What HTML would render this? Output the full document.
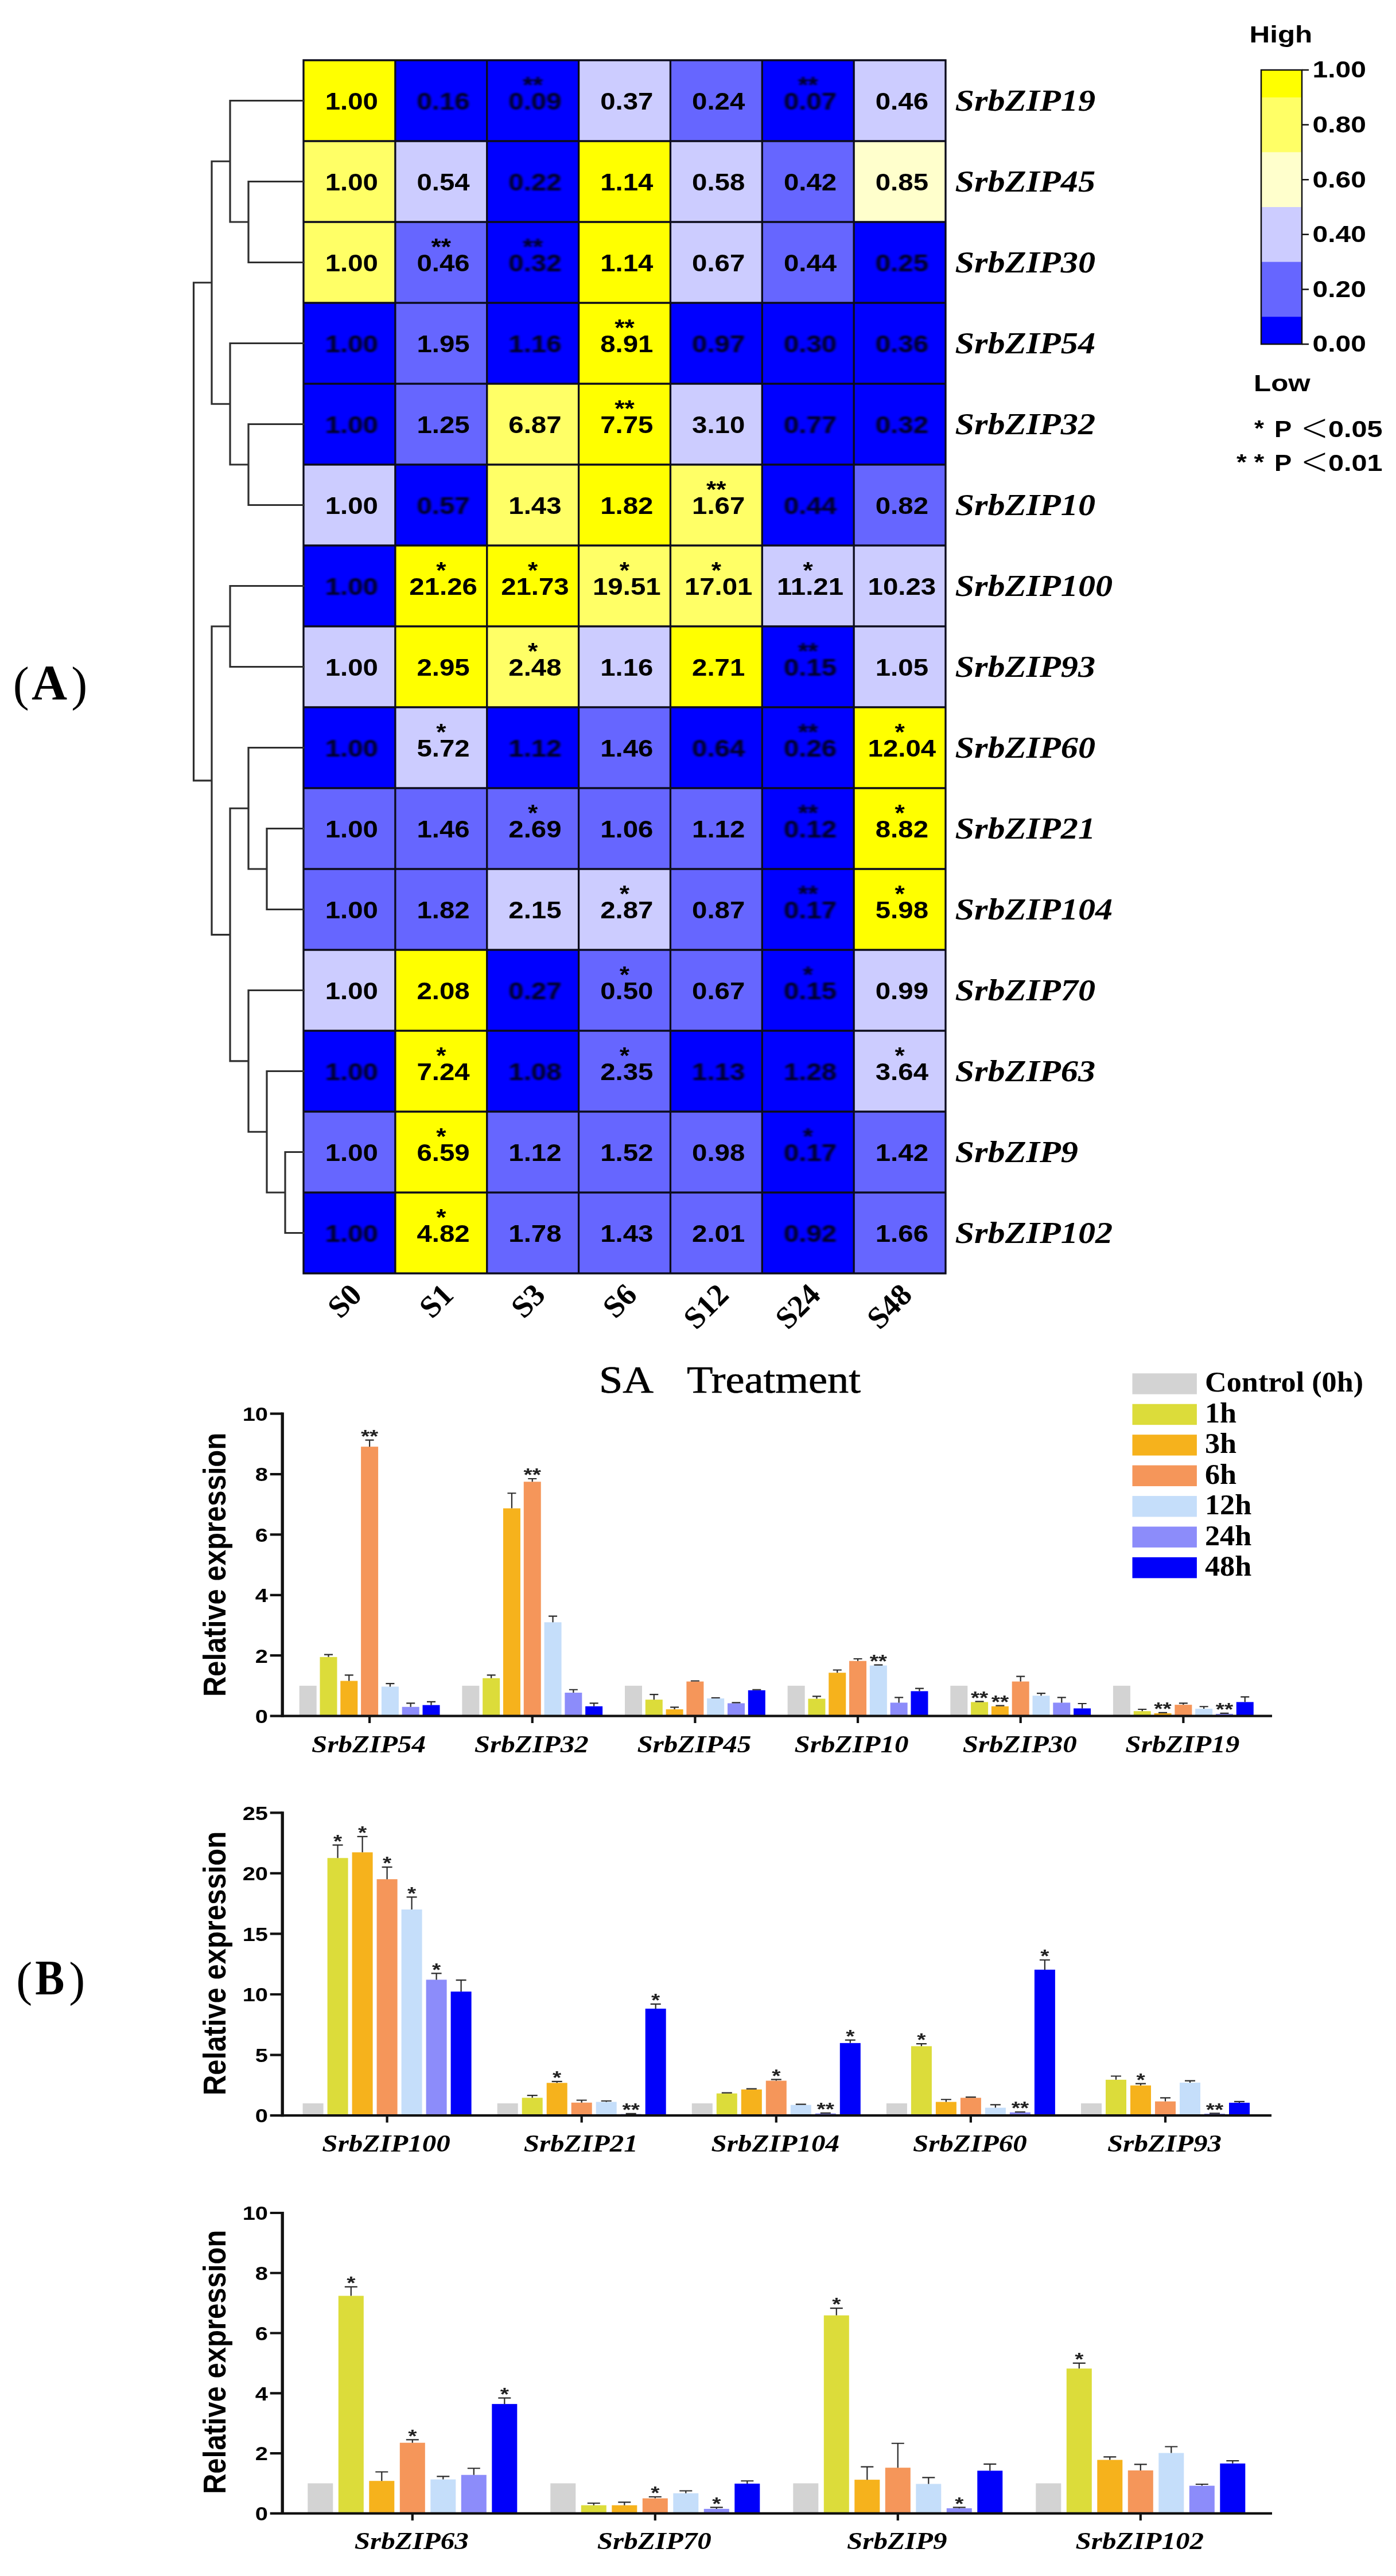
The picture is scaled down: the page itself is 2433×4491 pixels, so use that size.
<!DOCTYPE html>
<html lang="en"><head><meta charset="utf-8"><title>SrbZIP expression under SA treatment</title>
<style>
html,body{margin:0;padding:0;background:#fff}
svg{display:block;filter:blur(0.7px)}
.fs{font-family:"Liberation Sans", Arial, sans-serif;font-weight:bold}
.fr{font-family:"Liberation Serif", "Times New Roman", serif;font-weight:bold}
</style></head><body>
<svg width="2433" height="4491" viewBox="0 0 2433 4491">
<defs><filter id="bl" x="-20%" y="-50%" width="140%" height="200%"><feGaussianBlur stdDeviation="1.7"/></filter></defs>
<rect width="2433" height="4491" fill="#fff"/>
<g id="heat">
<rect x="529.00" y="105.00" width="160.36" height="141.50" fill="#ffff00"/>
<rect x="688.86" y="105.00" width="160.36" height="141.50" fill="#0000ff"/>
<rect x="848.71" y="105.00" width="160.36" height="141.50" fill="#0000ff"/>
<rect x="1008.57" y="105.00" width="160.36" height="141.50" fill="#ccccff"/>
<rect x="1168.43" y="105.00" width="160.36" height="141.50" fill="#6666ff"/>
<rect x="1328.29" y="105.00" width="160.36" height="141.50" fill="#0000ff"/>
<rect x="1488.14" y="105.00" width="160.36" height="141.50" fill="#ccccff"/>
<rect x="529.00" y="246.00" width="160.36" height="141.50" fill="#ffff66"/>
<rect x="688.86" y="246.00" width="160.36" height="141.50" fill="#ccccff"/>
<rect x="848.71" y="246.00" width="160.36" height="141.50" fill="#0000ff"/>
<rect x="1008.57" y="246.00" width="160.36" height="141.50" fill="#ffff00"/>
<rect x="1168.43" y="246.00" width="160.36" height="141.50" fill="#ccccff"/>
<rect x="1328.29" y="246.00" width="160.36" height="141.50" fill="#6666ff"/>
<rect x="1488.14" y="246.00" width="160.36" height="141.50" fill="#ffffcc"/>
<rect x="529.00" y="387.00" width="160.36" height="141.50" fill="#ffff66"/>
<rect x="688.86" y="387.00" width="160.36" height="141.50" fill="#6666ff"/>
<rect x="848.71" y="387.00" width="160.36" height="141.50" fill="#0000ff"/>
<rect x="1008.57" y="387.00" width="160.36" height="141.50" fill="#ffff00"/>
<rect x="1168.43" y="387.00" width="160.36" height="141.50" fill="#ccccff"/>
<rect x="1328.29" y="387.00" width="160.36" height="141.50" fill="#6666ff"/>
<rect x="1488.14" y="387.00" width="160.36" height="141.50" fill="#0000ff"/>
<rect x="529.00" y="528.00" width="160.36" height="141.50" fill="#0000ff"/>
<rect x="688.86" y="528.00" width="160.36" height="141.50" fill="#6666ff"/>
<rect x="848.71" y="528.00" width="160.36" height="141.50" fill="#0000ff"/>
<rect x="1008.57" y="528.00" width="160.36" height="141.50" fill="#ffff00"/>
<rect x="1168.43" y="528.00" width="160.36" height="141.50" fill="#0000ff"/>
<rect x="1328.29" y="528.00" width="160.36" height="141.50" fill="#0000ff"/>
<rect x="1488.14" y="528.00" width="160.36" height="141.50" fill="#0000ff"/>
<rect x="529.00" y="669.00" width="160.36" height="141.50" fill="#0000ff"/>
<rect x="688.86" y="669.00" width="160.36" height="141.50" fill="#6666ff"/>
<rect x="848.71" y="669.00" width="160.36" height="141.50" fill="#ffff66"/>
<rect x="1008.57" y="669.00" width="160.36" height="141.50" fill="#ffff00"/>
<rect x="1168.43" y="669.00" width="160.36" height="141.50" fill="#ccccff"/>
<rect x="1328.29" y="669.00" width="160.36" height="141.50" fill="#0000ff"/>
<rect x="1488.14" y="669.00" width="160.36" height="141.50" fill="#0000ff"/>
<rect x="529.00" y="810.00" width="160.36" height="141.50" fill="#ccccff"/>
<rect x="688.86" y="810.00" width="160.36" height="141.50" fill="#0000ff"/>
<rect x="848.71" y="810.00" width="160.36" height="141.50" fill="#ffff66"/>
<rect x="1008.57" y="810.00" width="160.36" height="141.50" fill="#ffff00"/>
<rect x="1168.43" y="810.00" width="160.36" height="141.50" fill="#ffff66"/>
<rect x="1328.29" y="810.00" width="160.36" height="141.50" fill="#0000ff"/>
<rect x="1488.14" y="810.00" width="160.36" height="141.50" fill="#6666ff"/>
<rect x="529.00" y="951.00" width="160.36" height="141.50" fill="#0000ff"/>
<rect x="688.86" y="951.00" width="160.36" height="141.50" fill="#ffff00"/>
<rect x="848.71" y="951.00" width="160.36" height="141.50" fill="#ffff00"/>
<rect x="1008.57" y="951.00" width="160.36" height="141.50" fill="#ffff66"/>
<rect x="1168.43" y="951.00" width="160.36" height="141.50" fill="#ffff66"/>
<rect x="1328.29" y="951.00" width="160.36" height="141.50" fill="#ccccff"/>
<rect x="1488.14" y="951.00" width="160.36" height="141.50" fill="#ccccff"/>
<rect x="529.00" y="1092.00" width="160.36" height="141.50" fill="#ccccff"/>
<rect x="688.86" y="1092.00" width="160.36" height="141.50" fill="#ffff00"/>
<rect x="848.71" y="1092.00" width="160.36" height="141.50" fill="#ffff66"/>
<rect x="1008.57" y="1092.00" width="160.36" height="141.50" fill="#ccccff"/>
<rect x="1168.43" y="1092.00" width="160.36" height="141.50" fill="#ffff00"/>
<rect x="1328.29" y="1092.00" width="160.36" height="141.50" fill="#0000ff"/>
<rect x="1488.14" y="1092.00" width="160.36" height="141.50" fill="#ccccff"/>
<rect x="529.00" y="1233.00" width="160.36" height="141.50" fill="#0000ff"/>
<rect x="688.86" y="1233.00" width="160.36" height="141.50" fill="#ccccff"/>
<rect x="848.71" y="1233.00" width="160.36" height="141.50" fill="#0000ff"/>
<rect x="1008.57" y="1233.00" width="160.36" height="141.50" fill="#6666ff"/>
<rect x="1168.43" y="1233.00" width="160.36" height="141.50" fill="#0000ff"/>
<rect x="1328.29" y="1233.00" width="160.36" height="141.50" fill="#0000ff"/>
<rect x="1488.14" y="1233.00" width="160.36" height="141.50" fill="#ffff00"/>
<rect x="529.00" y="1374.00" width="160.36" height="141.50" fill="#6666ff"/>
<rect x="688.86" y="1374.00" width="160.36" height="141.50" fill="#6666ff"/>
<rect x="848.71" y="1374.00" width="160.36" height="141.50" fill="#6666ff"/>
<rect x="1008.57" y="1374.00" width="160.36" height="141.50" fill="#6666ff"/>
<rect x="1168.43" y="1374.00" width="160.36" height="141.50" fill="#6666ff"/>
<rect x="1328.29" y="1374.00" width="160.36" height="141.50" fill="#0000ff"/>
<rect x="1488.14" y="1374.00" width="160.36" height="141.50" fill="#ffff00"/>
<rect x="529.00" y="1515.00" width="160.36" height="141.50" fill="#6666ff"/>
<rect x="688.86" y="1515.00" width="160.36" height="141.50" fill="#6666ff"/>
<rect x="848.71" y="1515.00" width="160.36" height="141.50" fill="#ccccff"/>
<rect x="1008.57" y="1515.00" width="160.36" height="141.50" fill="#ccccff"/>
<rect x="1168.43" y="1515.00" width="160.36" height="141.50" fill="#6666ff"/>
<rect x="1328.29" y="1515.00" width="160.36" height="141.50" fill="#0000ff"/>
<rect x="1488.14" y="1515.00" width="160.36" height="141.50" fill="#ffff00"/>
<rect x="529.00" y="1656.00" width="160.36" height="141.50" fill="#ccccff"/>
<rect x="688.86" y="1656.00" width="160.36" height="141.50" fill="#ffff00"/>
<rect x="848.71" y="1656.00" width="160.36" height="141.50" fill="#0000ff"/>
<rect x="1008.57" y="1656.00" width="160.36" height="141.50" fill="#6666ff"/>
<rect x="1168.43" y="1656.00" width="160.36" height="141.50" fill="#6666ff"/>
<rect x="1328.29" y="1656.00" width="160.36" height="141.50" fill="#0000ff"/>
<rect x="1488.14" y="1656.00" width="160.36" height="141.50" fill="#ccccff"/>
<rect x="529.00" y="1797.00" width="160.36" height="141.50" fill="#0000ff"/>
<rect x="688.86" y="1797.00" width="160.36" height="141.50" fill="#ffff00"/>
<rect x="848.71" y="1797.00" width="160.36" height="141.50" fill="#0000ff"/>
<rect x="1008.57" y="1797.00" width="160.36" height="141.50" fill="#6666ff"/>
<rect x="1168.43" y="1797.00" width="160.36" height="141.50" fill="#0000ff"/>
<rect x="1328.29" y="1797.00" width="160.36" height="141.50" fill="#0000ff"/>
<rect x="1488.14" y="1797.00" width="160.36" height="141.50" fill="#ccccff"/>
<rect x="529.00" y="1938.00" width="160.36" height="141.50" fill="#6666ff"/>
<rect x="688.86" y="1938.00" width="160.36" height="141.50" fill="#ffff00"/>
<rect x="848.71" y="1938.00" width="160.36" height="141.50" fill="#6666ff"/>
<rect x="1008.57" y="1938.00" width="160.36" height="141.50" fill="#6666ff"/>
<rect x="1168.43" y="1938.00" width="160.36" height="141.50" fill="#6666ff"/>
<rect x="1328.29" y="1938.00" width="160.36" height="141.50" fill="#0000ff"/>
<rect x="1488.14" y="1938.00" width="160.36" height="141.50" fill="#6666ff"/>
<rect x="529.00" y="2079.00" width="160.36" height="141.50" fill="#0000ff"/>
<rect x="688.86" y="2079.00" width="160.36" height="141.50" fill="#ffff00"/>
<rect x="848.71" y="2079.00" width="160.36" height="141.50" fill="#6666ff"/>
<rect x="1008.57" y="2079.00" width="160.36" height="141.50" fill="#6666ff"/>
<rect x="1168.43" y="2079.00" width="160.36" height="141.50" fill="#6666ff"/>
<rect x="1328.29" y="2079.00" width="160.36" height="141.50" fill="#0000ff"/>
<rect x="1488.14" y="2079.00" width="160.36" height="141.50" fill="#6666ff"/>
<path d="M529.00 103.50V2221.50M688.86 103.50V2221.50M848.71 103.50V2221.50M1008.57 103.50V2221.50M1168.43 103.50V2221.50M1328.29 103.50V2221.50M1488.14 103.50V2221.50M1648.00 103.50V2221.50M527.50 105.00H1649.50M527.50 246.00H1649.50M527.50 387.00H1649.50M527.50 528.00H1649.50M527.50 669.00H1649.50M527.50 810.00H1649.50M527.50 951.00H1649.50M527.50 1092.00H1649.50M527.50 1233.00H1649.50M527.50 1374.00H1649.50M527.50 1515.00H1649.50M527.50 1656.00H1649.50M527.50 1797.00H1649.50M527.50 1938.00H1649.50M527.50 2079.00H1649.50M527.50 2220.00H1649.50" stroke="#0c0c1c" stroke-width="3.3" fill="none"/>
<text class="fs" transform="translate(612.73,190.70) scale(1.1100,1.0000)" font-size="42.7" text-anchor="middle">1.00</text>
<text class="fs" transform="translate(772.59,190.70) scale(1.1100,1.0000)" font-size="42.7" text-anchor="middle" style="fill:#00001c;" filter="url(#bl)" opacity="0.97">0.16</text>
<text class="fs" transform="translate(932.44,190.70) scale(1.1100,1.0000)" font-size="42.7" text-anchor="middle" style="fill:#00001c;" filter="url(#bl)" opacity="0.97">0.09</text>
<text class="fs" transform="translate(928.64,162.00) scale(1.1100,1.0000)" font-size="40" text-anchor="middle" style="fill:#00001c;" filter="url(#bl)" opacity="0.97">**</text>
<text class="fs" transform="translate(1092.30,190.70) scale(1.1100,1.0000)" font-size="42.7" text-anchor="middle">0.37</text>
<text class="fs" transform="translate(1252.16,190.70) scale(1.1100,1.0000)" font-size="42.7" text-anchor="middle">0.24</text>
<text class="fs" transform="translate(1412.01,190.70) scale(1.1100,1.0000)" font-size="42.7" text-anchor="middle" style="fill:#00001c;" filter="url(#bl)" opacity="0.97">0.07</text>
<text class="fs" transform="translate(1408.21,162.00) scale(1.1100,1.0000)" font-size="40" text-anchor="middle" style="fill:#00001c;" filter="url(#bl)" opacity="0.97">**</text>
<text class="fs" transform="translate(1571.87,190.70) scale(1.1100,1.0000)" font-size="42.7" text-anchor="middle">0.46</text>
<text class="fr" transform="translate(1664.50,193.30) scale(1.1600,1.0000)" font-size="52" style="font-style:italic;">SrbZIP19</text>
<text class="fs" transform="translate(612.73,331.70) scale(1.1100,1.0000)" font-size="42.7" text-anchor="middle">1.00</text>
<text class="fs" transform="translate(772.59,331.70) scale(1.1100,1.0000)" font-size="42.7" text-anchor="middle">0.54</text>
<text class="fs" transform="translate(932.44,331.70) scale(1.1100,1.0000)" font-size="42.7" text-anchor="middle" style="fill:#00001c;" filter="url(#bl)" opacity="0.97">0.22</text>
<text class="fs" transform="translate(1092.30,331.70) scale(1.1100,1.0000)" font-size="42.7" text-anchor="middle">1.14</text>
<text class="fs" transform="translate(1252.16,331.70) scale(1.1100,1.0000)" font-size="42.7" text-anchor="middle">0.58</text>
<text class="fs" transform="translate(1412.01,331.70) scale(1.1100,1.0000)" font-size="42.7" text-anchor="middle">0.42</text>
<text class="fs" transform="translate(1571.87,331.70) scale(1.1100,1.0000)" font-size="42.7" text-anchor="middle">0.85</text>
<text class="fr" transform="translate(1664.50,334.30) scale(1.1600,1.0000)" font-size="52" style="font-style:italic;">SrbZIP45</text>
<text class="fs" transform="translate(612.73,472.70) scale(1.1100,1.0000)" font-size="42.7" text-anchor="middle">1.00</text>
<text class="fs" transform="translate(772.59,472.70) scale(1.1100,1.0000)" font-size="42.7" text-anchor="middle">0.46</text>
<text class="fs" transform="translate(768.79,444.00) scale(1.1100,1.0000)" font-size="40" text-anchor="middle">**</text>
<text class="fs" transform="translate(932.44,472.70) scale(1.1100,1.0000)" font-size="42.7" text-anchor="middle" style="fill:#00001c;" filter="url(#bl)" opacity="0.97">0.32</text>
<text class="fs" transform="translate(928.64,444.00) scale(1.1100,1.0000)" font-size="40" text-anchor="middle" style="fill:#00001c;" filter="url(#bl)" opacity="0.97">**</text>
<text class="fs" transform="translate(1092.30,472.70) scale(1.1100,1.0000)" font-size="42.7" text-anchor="middle">1.14</text>
<text class="fs" transform="translate(1252.16,472.70) scale(1.1100,1.0000)" font-size="42.7" text-anchor="middle">0.67</text>
<text class="fs" transform="translate(1412.01,472.70) scale(1.1100,1.0000)" font-size="42.7" text-anchor="middle">0.44</text>
<text class="fs" transform="translate(1571.87,472.70) scale(1.1100,1.0000)" font-size="42.7" text-anchor="middle" style="fill:#00001c;" filter="url(#bl)" opacity="0.97">0.25</text>
<text class="fr" transform="translate(1664.50,475.30) scale(1.1600,1.0000)" font-size="52" style="font-style:italic;">SrbZIP30</text>
<text class="fs" transform="translate(612.73,613.70) scale(1.1100,1.0000)" font-size="42.7" text-anchor="middle" style="fill:#00001c;" filter="url(#bl)" opacity="0.97">1.00</text>
<text class="fs" transform="translate(772.59,613.70) scale(1.1100,1.0000)" font-size="42.7" text-anchor="middle">1.95</text>
<text class="fs" transform="translate(932.44,613.70) scale(1.1100,1.0000)" font-size="42.7" text-anchor="middle" style="fill:#00001c;" filter="url(#bl)" opacity="0.97">1.16</text>
<text class="fs" transform="translate(1092.30,613.70) scale(1.1100,1.0000)" font-size="42.7" text-anchor="middle">8.91</text>
<text class="fs" transform="translate(1088.50,585.00) scale(1.1100,1.0000)" font-size="40" text-anchor="middle">**</text>
<text class="fs" transform="translate(1252.16,613.70) scale(1.1100,1.0000)" font-size="42.7" text-anchor="middle" style="fill:#00001c;" filter="url(#bl)" opacity="0.97">0.97</text>
<text class="fs" transform="translate(1412.01,613.70) scale(1.1100,1.0000)" font-size="42.7" text-anchor="middle" style="fill:#00001c;" filter="url(#bl)" opacity="0.97">0.30</text>
<text class="fs" transform="translate(1571.87,613.70) scale(1.1100,1.0000)" font-size="42.7" text-anchor="middle" style="fill:#00001c;" filter="url(#bl)" opacity="0.97">0.36</text>
<text class="fr" transform="translate(1664.50,616.30) scale(1.1600,1.0000)" font-size="52" style="font-style:italic;">SrbZIP54</text>
<text class="fs" transform="translate(612.73,754.70) scale(1.1100,1.0000)" font-size="42.7" text-anchor="middle" style="fill:#00001c;" filter="url(#bl)" opacity="0.97">1.00</text>
<text class="fs" transform="translate(772.59,754.70) scale(1.1100,1.0000)" font-size="42.7" text-anchor="middle">1.25</text>
<text class="fs" transform="translate(932.44,754.70) scale(1.1100,1.0000)" font-size="42.7" text-anchor="middle">6.87</text>
<text class="fs" transform="translate(1092.30,754.70) scale(1.1100,1.0000)" font-size="42.7" text-anchor="middle">7.75</text>
<text class="fs" transform="translate(1088.50,726.00) scale(1.1100,1.0000)" font-size="40" text-anchor="middle">**</text>
<text class="fs" transform="translate(1252.16,754.70) scale(1.1100,1.0000)" font-size="42.7" text-anchor="middle">3.10</text>
<text class="fs" transform="translate(1412.01,754.70) scale(1.1100,1.0000)" font-size="42.7" text-anchor="middle" style="fill:#00001c;" filter="url(#bl)" opacity="0.97">0.77</text>
<text class="fs" transform="translate(1571.87,754.70) scale(1.1100,1.0000)" font-size="42.7" text-anchor="middle" style="fill:#00001c;" filter="url(#bl)" opacity="0.97">0.32</text>
<text class="fr" transform="translate(1664.50,757.30) scale(1.1600,1.0000)" font-size="52" style="font-style:italic;">SrbZIP32</text>
<text class="fs" transform="translate(612.73,895.70) scale(1.1100,1.0000)" font-size="42.7" text-anchor="middle">1.00</text>
<text class="fs" transform="translate(772.59,895.70) scale(1.1100,1.0000)" font-size="42.7" text-anchor="middle" style="fill:#00001c;" filter="url(#bl)" opacity="0.97">0.57</text>
<text class="fs" transform="translate(932.44,895.70) scale(1.1100,1.0000)" font-size="42.7" text-anchor="middle">1.43</text>
<text class="fs" transform="translate(1092.30,895.70) scale(1.1100,1.0000)" font-size="42.7" text-anchor="middle">1.82</text>
<text class="fs" transform="translate(1252.16,895.70) scale(1.1100,1.0000)" font-size="42.7" text-anchor="middle">1.67</text>
<text class="fs" transform="translate(1248.36,867.00) scale(1.1100,1.0000)" font-size="40" text-anchor="middle">**</text>
<text class="fs" transform="translate(1412.01,895.70) scale(1.1100,1.0000)" font-size="42.7" text-anchor="middle" style="fill:#00001c;" filter="url(#bl)" opacity="0.97">0.44</text>
<text class="fs" transform="translate(1571.87,895.70) scale(1.1100,1.0000)" font-size="42.7" text-anchor="middle">0.82</text>
<text class="fr" transform="translate(1664.50,898.30) scale(1.1600,1.0000)" font-size="52" style="font-style:italic;">SrbZIP10</text>
<text class="fs" transform="translate(612.73,1036.70) scale(1.1100,1.0000)" font-size="42.7" text-anchor="middle" style="fill:#00001c;" filter="url(#bl)" opacity="0.97">1.00</text>
<text class="fs" transform="translate(772.59,1036.70) scale(1.1100,1.0000)" font-size="42.7" text-anchor="middle">21.26</text>
<text class="fs" transform="translate(768.79,1008.00) scale(1.1100,1.0000)" font-size="40" text-anchor="middle">*</text>
<text class="fs" transform="translate(932.44,1036.70) scale(1.1100,1.0000)" font-size="42.7" text-anchor="middle">21.73</text>
<text class="fs" transform="translate(928.64,1008.00) scale(1.1100,1.0000)" font-size="40" text-anchor="middle">*</text>
<text class="fs" transform="translate(1092.30,1036.70) scale(1.1100,1.0000)" font-size="42.7" text-anchor="middle">19.51</text>
<text class="fs" transform="translate(1088.50,1008.00) scale(1.1100,1.0000)" font-size="40" text-anchor="middle">*</text>
<text class="fs" transform="translate(1252.16,1036.70) scale(1.1100,1.0000)" font-size="42.7" text-anchor="middle">17.01</text>
<text class="fs" transform="translate(1248.36,1008.00) scale(1.1100,1.0000)" font-size="40" text-anchor="middle">*</text>
<text class="fs" transform="translate(1412.01,1036.70) scale(1.1100,1.0000)" font-size="42.7" text-anchor="middle">11.21</text>
<text class="fs" transform="translate(1408.21,1008.00) scale(1.1100,1.0000)" font-size="40" text-anchor="middle">*</text>
<text class="fs" transform="translate(1571.87,1036.70) scale(1.1100,1.0000)" font-size="42.7" text-anchor="middle">10.23</text>
<text class="fr" transform="translate(1664.50,1039.30) scale(1.1600,1.0000)" font-size="52" style="font-style:italic;">SrbZIP100</text>
<text class="fs" transform="translate(612.73,1177.70) scale(1.1100,1.0000)" font-size="42.7" text-anchor="middle">1.00</text>
<text class="fs" transform="translate(772.59,1177.70) scale(1.1100,1.0000)" font-size="42.7" text-anchor="middle">2.95</text>
<text class="fs" transform="translate(932.44,1177.70) scale(1.1100,1.0000)" font-size="42.7" text-anchor="middle">2.48</text>
<text class="fs" transform="translate(928.64,1149.00) scale(1.1100,1.0000)" font-size="40" text-anchor="middle">*</text>
<text class="fs" transform="translate(1092.30,1177.70) scale(1.1100,1.0000)" font-size="42.7" text-anchor="middle">1.16</text>
<text class="fs" transform="translate(1252.16,1177.70) scale(1.1100,1.0000)" font-size="42.7" text-anchor="middle">2.71</text>
<text class="fs" transform="translate(1412.01,1177.70) scale(1.1100,1.0000)" font-size="42.7" text-anchor="middle" style="fill:#00001c;" filter="url(#bl)" opacity="0.97">0.15</text>
<text class="fs" transform="translate(1408.21,1149.00) scale(1.1100,1.0000)" font-size="40" text-anchor="middle" style="fill:#00001c;" filter="url(#bl)" opacity="0.97">**</text>
<text class="fs" transform="translate(1571.87,1177.70) scale(1.1100,1.0000)" font-size="42.7" text-anchor="middle">1.05</text>
<text class="fr" transform="translate(1664.50,1180.30) scale(1.1600,1.0000)" font-size="52" style="font-style:italic;">SrbZIP93</text>
<text class="fs" transform="translate(612.73,1318.70) scale(1.1100,1.0000)" font-size="42.7" text-anchor="middle" style="fill:#00001c;" filter="url(#bl)" opacity="0.97">1.00</text>
<text class="fs" transform="translate(772.59,1318.70) scale(1.1100,1.0000)" font-size="42.7" text-anchor="middle">5.72</text>
<text class="fs" transform="translate(768.79,1290.00) scale(1.1100,1.0000)" font-size="40" text-anchor="middle">*</text>
<text class="fs" transform="translate(932.44,1318.70) scale(1.1100,1.0000)" font-size="42.7" text-anchor="middle" style="fill:#00001c;" filter="url(#bl)" opacity="0.97">1.12</text>
<text class="fs" transform="translate(1092.30,1318.70) scale(1.1100,1.0000)" font-size="42.7" text-anchor="middle">1.46</text>
<text class="fs" transform="translate(1252.16,1318.70) scale(1.1100,1.0000)" font-size="42.7" text-anchor="middle" style="fill:#00001c;" filter="url(#bl)" opacity="0.97">0.64</text>
<text class="fs" transform="translate(1412.01,1318.70) scale(1.1100,1.0000)" font-size="42.7" text-anchor="middle" style="fill:#00001c;" filter="url(#bl)" opacity="0.97">0.26</text>
<text class="fs" transform="translate(1408.21,1290.00) scale(1.1100,1.0000)" font-size="40" text-anchor="middle" style="fill:#00001c;" filter="url(#bl)" opacity="0.97">**</text>
<text class="fs" transform="translate(1571.87,1318.70) scale(1.1100,1.0000)" font-size="42.7" text-anchor="middle">12.04</text>
<text class="fs" transform="translate(1568.07,1290.00) scale(1.1100,1.0000)" font-size="40" text-anchor="middle">*</text>
<text class="fr" transform="translate(1664.50,1321.30) scale(1.1600,1.0000)" font-size="52" style="font-style:italic;">SrbZIP60</text>
<text class="fs" transform="translate(612.73,1459.70) scale(1.1100,1.0000)" font-size="42.7" text-anchor="middle">1.00</text>
<text class="fs" transform="translate(772.59,1459.70) scale(1.1100,1.0000)" font-size="42.7" text-anchor="middle">1.46</text>
<text class="fs" transform="translate(932.44,1459.70) scale(1.1100,1.0000)" font-size="42.7" text-anchor="middle">2.69</text>
<text class="fs" transform="translate(928.64,1431.00) scale(1.1100,1.0000)" font-size="40" text-anchor="middle">*</text>
<text class="fs" transform="translate(1092.30,1459.70) scale(1.1100,1.0000)" font-size="42.7" text-anchor="middle">1.06</text>
<text class="fs" transform="translate(1252.16,1459.70) scale(1.1100,1.0000)" font-size="42.7" text-anchor="middle">1.12</text>
<text class="fs" transform="translate(1412.01,1459.70) scale(1.1100,1.0000)" font-size="42.7" text-anchor="middle" style="fill:#00001c;" filter="url(#bl)" opacity="0.97">0.12</text>
<text class="fs" transform="translate(1408.21,1431.00) scale(1.1100,1.0000)" font-size="40" text-anchor="middle" style="fill:#00001c;" filter="url(#bl)" opacity="0.97">**</text>
<text class="fs" transform="translate(1571.87,1459.70) scale(1.1100,1.0000)" font-size="42.7" text-anchor="middle">8.82</text>
<text class="fs" transform="translate(1568.07,1431.00) scale(1.1100,1.0000)" font-size="40" text-anchor="middle">*</text>
<text class="fr" transform="translate(1664.50,1462.30) scale(1.1600,1.0000)" font-size="52" style="font-style:italic;">SrbZIP21</text>
<text class="fs" transform="translate(612.73,1600.70) scale(1.1100,1.0000)" font-size="42.7" text-anchor="middle">1.00</text>
<text class="fs" transform="translate(772.59,1600.70) scale(1.1100,1.0000)" font-size="42.7" text-anchor="middle">1.82</text>
<text class="fs" transform="translate(932.44,1600.70) scale(1.1100,1.0000)" font-size="42.7" text-anchor="middle">2.15</text>
<text class="fs" transform="translate(1092.30,1600.70) scale(1.1100,1.0000)" font-size="42.7" text-anchor="middle">2.87</text>
<text class="fs" transform="translate(1088.50,1572.00) scale(1.1100,1.0000)" font-size="40" text-anchor="middle">*</text>
<text class="fs" transform="translate(1252.16,1600.70) scale(1.1100,1.0000)" font-size="42.7" text-anchor="middle">0.87</text>
<text class="fs" transform="translate(1412.01,1600.70) scale(1.1100,1.0000)" font-size="42.7" text-anchor="middle" style="fill:#00001c;" filter="url(#bl)" opacity="0.97">0.17</text>
<text class="fs" transform="translate(1408.21,1572.00) scale(1.1100,1.0000)" font-size="40" text-anchor="middle" style="fill:#00001c;" filter="url(#bl)" opacity="0.97">**</text>
<text class="fs" transform="translate(1571.87,1600.70) scale(1.1100,1.0000)" font-size="42.7" text-anchor="middle">5.98</text>
<text class="fs" transform="translate(1568.07,1572.00) scale(1.1100,1.0000)" font-size="40" text-anchor="middle">*</text>
<text class="fr" transform="translate(1664.50,1603.30) scale(1.1600,1.0000)" font-size="52" style="font-style:italic;">SrbZIP104</text>
<text class="fs" transform="translate(612.73,1741.70) scale(1.1100,1.0000)" font-size="42.7" text-anchor="middle">1.00</text>
<text class="fs" transform="translate(772.59,1741.70) scale(1.1100,1.0000)" font-size="42.7" text-anchor="middle">2.08</text>
<text class="fs" transform="translate(932.44,1741.70) scale(1.1100,1.0000)" font-size="42.7" text-anchor="middle" style="fill:#00001c;" filter="url(#bl)" opacity="0.97">0.27</text>
<text class="fs" transform="translate(1092.30,1741.70) scale(1.1100,1.0000)" font-size="42.7" text-anchor="middle">0.50</text>
<text class="fs" transform="translate(1088.50,1713.00) scale(1.1100,1.0000)" font-size="40" text-anchor="middle">*</text>
<text class="fs" transform="translate(1252.16,1741.70) scale(1.1100,1.0000)" font-size="42.7" text-anchor="middle">0.67</text>
<text class="fs" transform="translate(1412.01,1741.70) scale(1.1100,1.0000)" font-size="42.7" text-anchor="middle" style="fill:#00001c;" filter="url(#bl)" opacity="0.97">0.15</text>
<text class="fs" transform="translate(1408.21,1713.00) scale(1.1100,1.0000)" font-size="40" text-anchor="middle" style="fill:#00001c;" filter="url(#bl)" opacity="0.97">*</text>
<text class="fs" transform="translate(1571.87,1741.70) scale(1.1100,1.0000)" font-size="42.7" text-anchor="middle">0.99</text>
<text class="fr" transform="translate(1664.50,1744.30) scale(1.1600,1.0000)" font-size="52" style="font-style:italic;">SrbZIP70</text>
<text class="fs" transform="translate(612.73,1882.70) scale(1.1100,1.0000)" font-size="42.7" text-anchor="middle" style="fill:#00001c;" filter="url(#bl)" opacity="0.97">1.00</text>
<text class="fs" transform="translate(772.59,1882.70) scale(1.1100,1.0000)" font-size="42.7" text-anchor="middle">7.24</text>
<text class="fs" transform="translate(768.79,1854.00) scale(1.1100,1.0000)" font-size="40" text-anchor="middle">*</text>
<text class="fs" transform="translate(932.44,1882.70) scale(1.1100,1.0000)" font-size="42.7" text-anchor="middle" style="fill:#00001c;" filter="url(#bl)" opacity="0.97">1.08</text>
<text class="fs" transform="translate(1092.30,1882.70) scale(1.1100,1.0000)" font-size="42.7" text-anchor="middle">2.35</text>
<text class="fs" transform="translate(1088.50,1854.00) scale(1.1100,1.0000)" font-size="40" text-anchor="middle">*</text>
<text class="fs" transform="translate(1252.16,1882.70) scale(1.1100,1.0000)" font-size="42.7" text-anchor="middle" style="fill:#00001c;" filter="url(#bl)" opacity="0.97">1.13</text>
<text class="fs" transform="translate(1412.01,1882.70) scale(1.1100,1.0000)" font-size="42.7" text-anchor="middle" style="fill:#00001c;" filter="url(#bl)" opacity="0.97">1.28</text>
<text class="fs" transform="translate(1571.87,1882.70) scale(1.1100,1.0000)" font-size="42.7" text-anchor="middle">3.64</text>
<text class="fs" transform="translate(1568.07,1854.00) scale(1.1100,1.0000)" font-size="40" text-anchor="middle">*</text>
<text class="fr" transform="translate(1664.50,1885.30) scale(1.1600,1.0000)" font-size="52" style="font-style:italic;">SrbZIP63</text>
<text class="fs" transform="translate(612.73,2023.70) scale(1.1100,1.0000)" font-size="42.7" text-anchor="middle">1.00</text>
<text class="fs" transform="translate(772.59,2023.70) scale(1.1100,1.0000)" font-size="42.7" text-anchor="middle">6.59</text>
<text class="fs" transform="translate(768.79,1995.00) scale(1.1100,1.0000)" font-size="40" text-anchor="middle">*</text>
<text class="fs" transform="translate(932.44,2023.70) scale(1.1100,1.0000)" font-size="42.7" text-anchor="middle">1.12</text>
<text class="fs" transform="translate(1092.30,2023.70) scale(1.1100,1.0000)" font-size="42.7" text-anchor="middle">1.52</text>
<text class="fs" transform="translate(1252.16,2023.70) scale(1.1100,1.0000)" font-size="42.7" text-anchor="middle">0.98</text>
<text class="fs" transform="translate(1412.01,2023.70) scale(1.1100,1.0000)" font-size="42.7" text-anchor="middle" style="fill:#00001c;" filter="url(#bl)" opacity="0.97">0.17</text>
<text class="fs" transform="translate(1408.21,1995.00) scale(1.1100,1.0000)" font-size="40" text-anchor="middle" style="fill:#00001c;" filter="url(#bl)" opacity="0.97">*</text>
<text class="fs" transform="translate(1571.87,2023.70) scale(1.1100,1.0000)" font-size="42.7" text-anchor="middle">1.42</text>
<text class="fr" transform="translate(1664.50,2026.30) scale(1.1600,1.0000)" font-size="52" style="font-style:italic;">SrbZIP9</text>
<text class="fs" transform="translate(612.73,2164.70) scale(1.1100,1.0000)" font-size="42.7" text-anchor="middle" style="fill:#00001c;" filter="url(#bl)" opacity="0.97">1.00</text>
<text class="fs" transform="translate(772.59,2164.70) scale(1.1100,1.0000)" font-size="42.7" text-anchor="middle">4.82</text>
<text class="fs" transform="translate(768.79,2136.00) scale(1.1100,1.0000)" font-size="40" text-anchor="middle">*</text>
<text class="fs" transform="translate(932.44,2164.70) scale(1.1100,1.0000)" font-size="42.7" text-anchor="middle">1.78</text>
<text class="fs" transform="translate(1092.30,2164.70) scale(1.1100,1.0000)" font-size="42.7" text-anchor="middle">1.43</text>
<text class="fs" transform="translate(1252.16,2164.70) scale(1.1100,1.0000)" font-size="42.7" text-anchor="middle">2.01</text>
<text class="fs" transform="translate(1412.01,2164.70) scale(1.1100,1.0000)" font-size="42.7" text-anchor="middle" style="fill:#00001c;" filter="url(#bl)" opacity="0.97">0.92</text>
<text class="fs" transform="translate(1571.87,2164.70) scale(1.1100,1.0000)" font-size="42.7" text-anchor="middle">1.66</text>
<text class="fr" transform="translate(1664.50,2167.30) scale(1.1600,1.0000)" font-size="52" style="font-style:italic;">SrbZIP102</text>
</g>
<path d="M433.00 316.50H529.00M433.00 457.50H529.00M433.00 316.50V457.50M401.00 387.00H433.00M401.00 175.50H529.00M401.00 175.50V387.00M369.00 281.25H401.00M433.00 739.50H529.00M433.00 880.50H529.00M433.00 739.50V880.50M401.00 810.00H433.00M401.00 598.50H529.00M401.00 598.50V810.00M369.00 704.25H401.00M369.00 281.25V704.25M337.50 492.75H369.00M401.00 1021.50H529.00M401.00 1162.50H529.00M401.00 1021.50V1162.50M369.00 1092.00H401.00M465.00 1444.50H529.00M465.00 1585.50H529.00M465.00 1444.50V1585.50M433.00 1515.00H465.00M433.00 1303.50H529.00M433.00 1303.50V1515.00M401.00 1409.25H433.00M497.00 2008.50H529.00M497.00 2149.50H529.00M497.00 2008.50V2149.50M465.00 2079.00H497.00M465.00 1867.50H529.00M465.00 1867.50V2079.00M433.00 1973.25H465.00M433.00 1726.50H529.00M433.00 1726.50V1973.25M401.00 1849.88H433.00M401.00 1409.25V1849.88M369.00 1629.56H401.00M369.00 1092.00V1629.56M337.50 1360.78H369.00M337.50 492.75V1360.78" stroke="#2e2e2e" stroke-width="3.2" fill="none" stroke-linecap="square"/>
<text class="fr" transform="translate(633.33,2260.50) rotate(-45)" font-size="54" text-anchor="end">S0</text>
<text class="fr" transform="translate(793.19,2260.50) rotate(-45)" font-size="54" text-anchor="end">S1</text>
<text class="fr" transform="translate(953.04,2260.50) rotate(-45)" font-size="54" text-anchor="end">S3</text>
<text class="fr" transform="translate(1112.90,2260.50) rotate(-45)" font-size="54" text-anchor="end">S6</text>
<text class="fr" transform="translate(1272.76,2260.50) rotate(-45)" font-size="54" text-anchor="end">S12</text>
<text class="fr" transform="translate(1432.61,2260.50) rotate(-45)" font-size="54" text-anchor="end">S24</text>
<text class="fr" transform="translate(1592.47,2260.50) rotate(-45)" font-size="54" text-anchor="end">S48</text>
<rect x="2198" y="122.00" width="71" height="48.30" fill="#ffff00"/>
<rect x="2198" y="169.80" width="71" height="96.10" fill="#ffff66"/>
<rect x="2198" y="265.40" width="71" height="96.10" fill="#ffffcc"/>
<rect x="2198" y="361.00" width="71" height="96.10" fill="#ccccff"/>
<rect x="2198" y="456.60" width="71" height="96.10" fill="#6666ff"/>
<rect x="2198" y="552.20" width="71" height="48.30" fill="#0000ff"/>
<rect x="2198" y="122" width="71" height="478" fill="none" stroke="#111" stroke-width="2.5"/>
<text class="fs" transform="translate(2287.50,135.40) scale(1.1700,1.0000)" font-size="41">1.00</text>
<text class="fs" transform="translate(2287.50,231.00) scale(1.1700,1.0000)" font-size="41">0.80</text>
<text class="fs" transform="translate(2287.50,326.60) scale(1.1700,1.0000)" font-size="41">0.60</text>
<text class="fs" transform="translate(2287.50,422.20) scale(1.1700,1.0000)" font-size="41">0.40</text>
<text class="fs" transform="translate(2287.50,517.80) scale(1.1700,1.0000)" font-size="41">0.20</text>
<text class="fs" transform="translate(2287.50,613.40) scale(1.1700,1.0000)" font-size="41">0.00</text>
<path d="M2269 122.00H2281M2269 217.60H2281M2269 313.20H2281M2269 408.80H2281M2269 504.40H2281M2269 600.00H2281" stroke="#111" stroke-width="2.5" fill="none"/>
<text class="fs" transform="translate(2177.50,73.50) scale(1.2200,1.0000)" font-size="40.5">High</text>
<text class="fs" transform="translate(2185.00,681.50) scale(1.2200,1.0000)" font-size="40.5">Low</text>
<text class="fs" transform="translate(2186.00,759.50) scale(1.1500,1.0000)" font-size="38">*</text>
<text class="fs" transform="translate(2221.00,761.50) scale(1.1200,1.0000)" font-size="40.5">P</text>
<text class="fs" transform="translate(2266.40,768.00) scale(0.8600,1.0000)" font-size="68" style="font-weight:200;font-family:'DejaVu Sans','Liberation Sans',sans-serif;">&lt;</text>
<text class="fs" transform="translate(2315.00,761.50) scale(1.2000,1.0000)" font-size="40.5">0.05</text>
<text class="fs" transform="translate(2155.00,818.70) scale(1.2000,1.0000)" font-size="38">* *</text>
<text class="fs" transform="translate(2221.00,820.70) scale(1.1200,1.0000)" font-size="40.5">P</text>
<text class="fs" transform="translate(2266.40,827.20) scale(0.8600,1.0000)" font-size="68" style="font-weight:200;font-family:'DejaVu Sans','Liberation Sans',sans-serif;">&lt;</text>
<text class="fs" transform="translate(2315.00,820.70) scale(1.2000,1.0000)" font-size="40.5">0.01</text>
<text class="fr" transform="translate(22.80,1220.80)" font-size="84" style="font-weight:normal;">(</text>
<text class="fr" transform="translate(55.00,1219.30)" font-size="86">A</text>
<text class="fr" transform="translate(124.30,1220.80)" font-size="84" style="font-weight:normal;">)</text>
<text class="fr" transform="translate(28.20,3478.60)" font-size="84" style="font-weight:normal;">(</text>
<text class="fr" transform="translate(61.30,3477.10) scale(0.8900,1.0000)" font-size="86">B</text>
<text class="fr" transform="translate(120.20,3478.60)" font-size="84" style="font-weight:normal;">)</text>
<text class="fr" transform="translate(1044.00,2428.20) scale(1.1100,1.0000)" font-size="67" style="font-weight:normal;" stroke="#000" stroke-width="0.7">SA</text>
<text class="fr" transform="translate(1197.00,2428.20) scale(1.1100,1.0000)" font-size="67" style="font-weight:normal;" stroke="#000" stroke-width="0.7">Treatment</text>
<rect x="1973.5" y="2394.30" width="112.4" height="36.4" fill="#d3d3d3"/>
<text class="fr" transform="translate(2100.00,2426.40) scale(1.0450,1.0000)" font-size="50">Control (0h)</text>
<rect x="1973.5" y="2447.74" width="112.4" height="36.4" fill="#dcdc3a"/>
<text class="fr" transform="translate(2100.00,2479.84) scale(1.0450,1.0000)" font-size="50">1h</text>
<rect x="1973.5" y="2501.18" width="112.4" height="36.4" fill="#f6b21c"/>
<text class="fr" transform="translate(2100.00,2533.28) scale(1.0450,1.0000)" font-size="50">3h</text>
<rect x="1973.5" y="2554.62" width="112.4" height="36.4" fill="#f5965a"/>
<text class="fr" transform="translate(2100.00,2586.72) scale(1.0450,1.0000)" font-size="50">6h</text>
<rect x="1973.5" y="2608.06" width="112.4" height="36.4" fill="#c5defa"/>
<text class="fr" transform="translate(2100.00,2640.16) scale(1.0450,1.0000)" font-size="50">12h</text>
<rect x="1973.5" y="2661.50" width="112.4" height="36.4" fill="#8c8cfa"/>
<text class="fr" transform="translate(2100.00,2693.60) scale(1.0450,1.0000)" font-size="50">24h</text>
<rect x="1973.5" y="2714.94" width="112.4" height="36.4" fill="#0000fa"/>
<text class="fr" transform="translate(2100.00,2747.04) scale(1.0450,1.0000)" font-size="50">48h</text>
<g>
<rect x="521.70" y="2938.91" width="30.00" height="52.69" fill="#d3d3d3"/>
<rect x="557.50" y="2888.85" width="30.00" height="102.75" fill="#dcdc3a"/>
<rect x="593.30" y="2930.48" width="30.00" height="61.12" fill="#f6b21c"/>
<rect x="629.10" y="2522.13" width="30.00" height="469.47" fill="#f5965a"/>
<rect x="664.90" y="2940.49" width="30.00" height="51.11" fill="#c5defa"/>
<rect x="700.70" y="2975.79" width="30.00" height="15.81" fill="#8c8cfa"/>
<rect x="736.50" y="2972.63" width="30.00" height="18.97" fill="#0000fa"/>
<text class="fs" transform="translate(644.10,2514.74) scale(1.2200,1.0000)" font-size="32" text-anchor="middle" style="fill:#222;">**</text>
<path d="M572.50 2888.85V2884.64M565.00 2884.64H580.00M608.30 2930.48V2920.47M600.80 2920.47H615.80M644.10 2522.13V2510.54M636.60 2510.54H651.60M679.90 2940.49V2935.22M672.40 2935.22H687.40M715.70 2975.79V2969.47M708.20 2969.47H723.20M751.50 2972.63V2966.84M744.00 2966.84H759.00" stroke="#2a2a2a" stroke-width="2.2" fill="none"/>
<text class="fr" transform="translate(642.60,3055.00) scale(1.1600,1.0000)" font-size="42.3" text-anchor="middle" style="font-style:italic;">SrbZIP54</text>
<rect x="805.35" y="2938.91" width="30.00" height="52.69" fill="#d3d3d3"/>
<rect x="841.15" y="2925.74" width="30.00" height="65.86" fill="#dcdc3a"/>
<rect x="876.95" y="2629.62" width="30.00" height="361.98" fill="#f6b21c"/>
<rect x="912.75" y="2583.25" width="30.00" height="408.35" fill="#f5965a"/>
<rect x="948.55" y="2828.26" width="30.00" height="163.34" fill="#c5defa"/>
<rect x="984.35" y="2951.03" width="30.00" height="40.57" fill="#8c8cfa"/>
<rect x="1020.15" y="2974.74" width="30.00" height="16.86" fill="#0000fa"/>
<text class="fs" transform="translate(927.75,2582.18) scale(1.2200,1.0000)" font-size="32" text-anchor="middle" style="fill:#222;">**</text>
<path d="M856.15 2925.74V2920.47M848.65 2920.47H863.65M891.95 2629.62V2603.27M884.45 2603.27H899.45M927.75 2583.25V2577.98M920.25 2577.98H935.25M963.55 2828.26V2817.72M956.05 2817.72H971.05M999.35 2951.03V2945.76M991.85 2945.76H1006.85M1035.15 2974.74V2969.47M1027.65 2969.47H1042.65" stroke="#2a2a2a" stroke-width="2.2" fill="none"/>
<text class="fr" transform="translate(926.25,3055.00) scale(1.1600,1.0000)" font-size="42.3" text-anchor="middle" style="font-style:italic;">SrbZIP32</text>
<rect x="1089.00" y="2938.91" width="30.00" height="52.69" fill="#d3d3d3"/>
<rect x="1124.80" y="2963.15" width="30.00" height="28.45" fill="#dcdc3a"/>
<rect x="1160.60" y="2980.01" width="30.00" height="11.59" fill="#f6b21c"/>
<rect x="1196.40" y="2931.53" width="30.00" height="60.07" fill="#f5965a"/>
<rect x="1232.20" y="2961.04" width="30.00" height="30.56" fill="#c5defa"/>
<rect x="1268.00" y="2969.47" width="30.00" height="22.13" fill="#8c8cfa"/>
<rect x="1303.80" y="2946.81" width="30.00" height="44.79" fill="#0000fa"/>
<path d="M1139.80 2963.15V2954.19M1132.30 2954.19H1147.30M1175.60 2980.01V2976.32M1168.10 2976.32H1183.10M1211.40 2931.53V2930.48M1203.90 2930.48H1218.90M1247.20 2961.04V2959.99M1239.70 2959.99H1254.70M1283.00 2969.47V2968.42M1275.50 2968.42H1290.50M1318.80 2946.81V2945.76M1311.30 2945.76H1326.30" stroke="#2a2a2a" stroke-width="2.2" fill="none"/>
<text class="fr" transform="translate(1209.90,3055.00) scale(1.1600,1.0000)" font-size="42.3" text-anchor="middle" style="font-style:italic;">SrbZIP45</text>
<rect x="1372.65" y="2938.91" width="30.00" height="52.69" fill="#d3d3d3"/>
<rect x="1408.45" y="2961.57" width="30.00" height="30.03" fill="#dcdc3a"/>
<rect x="1444.25" y="2916.25" width="30.00" height="75.35" fill="#f6b21c"/>
<rect x="1480.05" y="2895.70" width="30.00" height="95.90" fill="#f5965a"/>
<rect x="1515.85" y="2903.61" width="30.00" height="87.99" fill="#c5defa"/>
<rect x="1551.65" y="2968.42" width="30.00" height="23.18" fill="#8c8cfa"/>
<rect x="1587.45" y="2948.39" width="30.00" height="43.21" fill="#0000fa"/>
<text class="fs" transform="translate(1530.85,2906.75) scale(1.2200,1.0000)" font-size="32" text-anchor="middle" style="fill:#222;">**</text>
<path d="M1423.45 2961.57V2957.35M1415.95 2957.35H1430.95M1459.25 2916.25V2911.51M1451.75 2911.51H1466.75M1495.05 2895.70V2892.02M1487.55 2892.02H1502.55M1530.85 2903.61V2902.55M1523.35 2902.55H1538.35M1566.65 2968.42V2959.46M1559.15 2959.46H1574.15M1602.45 2948.39V2943.65M1594.95 2943.65H1609.95" stroke="#2a2a2a" stroke-width="2.2" fill="none"/>
<text class="fr" transform="translate(1484.05,3055.00) scale(1.1600,1.0000)" font-size="42.3" text-anchor="middle" style="font-style:italic;">SrbZIP10</text>
<rect x="1656.30" y="2938.91" width="30.00" height="52.69" fill="#d3d3d3"/>
<rect x="1692.10" y="2967.36" width="30.00" height="24.24" fill="#dcdc3a"/>
<rect x="1727.90" y="2974.74" width="30.00" height="16.86" fill="#f6b21c"/>
<rect x="1763.70" y="2931.53" width="30.00" height="60.07" fill="#f5965a"/>
<rect x="1799.50" y="2956.30" width="30.00" height="35.30" fill="#c5defa"/>
<rect x="1835.30" y="2968.42" width="30.00" height="23.18" fill="#8c8cfa"/>
<rect x="1871.10" y="2978.43" width="30.00" height="13.17" fill="#0000fa"/>
<text class="fs" transform="translate(1707.10,2970.51) scale(1.2200,1.0000)" font-size="32" text-anchor="middle" style="fill:#222;">**</text>
<text class="fs" transform="translate(1742.90,2977.89) scale(1.2200,1.0000)" font-size="32" text-anchor="middle" style="fill:#222;">**</text>
<path d="M1707.10 2967.36V2966.31M1699.60 2966.31H1714.60M1742.90 2974.74V2973.69M1735.40 2973.69H1750.40M1778.70 2931.53V2922.58M1771.20 2922.58H1786.20M1814.50 2956.30V2952.08M1807.00 2952.08H1822.00M1850.30 2968.42V2959.46M1842.80 2959.46H1857.80M1886.10 2978.43V2970.00M1878.60 2970.00H1893.60" stroke="#2a2a2a" stroke-width="2.2" fill="none"/>
<text class="fr" transform="translate(1777.20,3055.00) scale(1.1600,1.0000)" font-size="42.3" text-anchor="middle" style="font-style:italic;">SrbZIP30</text>
<rect x="1939.95" y="2938.91" width="30.00" height="52.69" fill="#d3d3d3"/>
<rect x="1975.75" y="2983.17" width="30.00" height="8.43" fill="#dcdc3a"/>
<rect x="2011.55" y="2986.86" width="30.00" height="4.74" fill="#f6b21c"/>
<rect x="2047.35" y="2972.10" width="30.00" height="19.50" fill="#f5965a"/>
<rect x="2083.15" y="2978.95" width="30.00" height="12.65" fill="#c5defa"/>
<rect x="2118.95" y="2987.91" width="30.00" height="3.69" fill="#8c8cfa"/>
<rect x="2154.75" y="2967.36" width="30.00" height="24.24" fill="#0000fa"/>
<text class="fs" transform="translate(2026.55,2990.00) scale(1.2200,1.0000)" font-size="32" text-anchor="middle" style="fill:#222;">**</text>
<text class="fs" transform="translate(2133.95,2991.06) scale(1.2200,1.0000)" font-size="32" text-anchor="middle" style="fill:#222;">**</text>
<path d="M1990.75 2983.17V2980.01M1983.25 2980.01H1998.25M2026.55 2986.86V2985.80M2019.05 2985.80H2034.05M2062.35 2972.10V2969.47M2054.85 2969.47H2069.85M2098.15 2978.95V2975.27M2090.65 2975.27H2105.65M2133.95 2987.91V2986.86M2126.45 2986.86H2141.45M2169.75 2967.36V2958.41M2162.25 2958.41H2177.25" stroke="#2a2a2a" stroke-width="2.2" fill="none"/>
<text class="fr" transform="translate(2060.85,3055.00) scale(1.1600,1.0000)" font-size="42.3" text-anchor="middle" style="font-style:italic;">SrbZIP19</text>
<text class="fs" transform="translate(467.00,3003.90) scale(1.1900,1.0000)" font-size="33.5" text-anchor="end">0</text>
<text class="fs" transform="translate(467.00,2898.52) scale(1.1900,1.0000)" font-size="33.5" text-anchor="end">2</text>
<text class="fs" transform="translate(467.00,2793.14) scale(1.1900,1.0000)" font-size="33.5" text-anchor="end">4</text>
<text class="fs" transform="translate(467.00,2687.76) scale(1.1900,1.0000)" font-size="33.5" text-anchor="end">6</text>
<text class="fs" transform="translate(467.00,2582.38) scale(1.1900,1.0000)" font-size="33.5" text-anchor="end">8</text>
<text class="fs" transform="translate(467.00,2477.00) scale(1.1900,1.0000)" font-size="33.5" text-anchor="end">10</text>
<path d="M492.20 2462.60V2993.70" stroke="#111" stroke-width="5.4" fill="none"/>
<path d="M492.20 2991.60H2217.00" stroke="#111" stroke-width="4.2" fill="none"/>
<path d="M492.20 2991.60H470.70M492.20 2886.22H470.70M492.20 2780.84H470.70M492.20 2675.46H470.70M492.20 2570.08H470.70M492.20 2464.70H470.70M644.10 2991.60V3004.10M927.75 2991.60V3004.10M1211.40 2991.60V3004.10M1495.05 2991.60V3004.10M1778.70 2991.60V3004.10M2062.35 2991.60V3004.10" stroke="#111" stroke-width="4.2" fill="none"/>
<text class="fs" transform="translate(393.40,2728.00) rotate(-90) scale(1.0000,1.1380)" font-size="49" text-anchor="middle">Relative expression</text>
</g>
<g>
<rect x="527.60" y="3666.99" width="36.00" height="21.11" fill="#d3d3d3"/>
<rect x="570.60" y="3239.26" width="36.00" height="448.84" fill="#dcdc3a"/>
<rect x="613.60" y="3229.34" width="36.00" height="458.76" fill="#f6b21c"/>
<rect x="656.60" y="3276.20" width="36.00" height="411.90" fill="#f5965a"/>
<rect x="699.60" y="3328.98" width="36.00" height="359.12" fill="#c5defa"/>
<rect x="742.60" y="3451.43" width="36.00" height="236.67" fill="#8c8cfa"/>
<rect x="785.60" y="3472.12" width="36.00" height="215.98" fill="#0000fa"/>
<text class="fs" transform="translate(588.60,3220.87) scale(1.2200,1.0000)" font-size="32" text-anchor="middle" style="fill:#222;">*</text>
<text class="fs" transform="translate(631.60,3206.09) scale(1.2200,1.0000)" font-size="32" text-anchor="middle" style="fill:#222;">*</text>
<text class="fs" transform="translate(674.60,3259.29) scale(1.2200,1.0000)" font-size="32" text-anchor="middle" style="fill:#222;">*</text>
<text class="fs" transform="translate(717.60,3311.65) scale(1.2200,1.0000)" font-size="32" text-anchor="middle" style="fill:#222;">*</text>
<text class="fs" transform="translate(760.60,3444.66) scale(1.2200,1.0000)" font-size="32" text-anchor="middle" style="fill:#222;">*</text>
<path d="M588.60 3239.26V3216.67M579.60 3216.67H597.60M631.60 3229.34V3201.89M622.60 3201.89H640.60M674.60 3276.20V3255.09M665.60 3255.09H683.60M717.60 3328.98V3307.45M708.60 3307.45H726.60M760.60 3451.43V3440.46M751.60 3440.46H769.60M803.60 3472.12V3452.07M794.60 3452.07H812.60" stroke="#2a2a2a" stroke-width="2.2" fill="none"/>
<text class="fr" transform="translate(673.10,3751.00) scale(1.1600,1.0000)" font-size="42.3" text-anchor="middle" style="font-style:italic;">SrbZIP100</text>
<rect x="866.70" y="3666.99" width="36.00" height="21.11" fill="#d3d3d3"/>
<rect x="909.70" y="3657.28" width="36.00" height="30.82" fill="#dcdc3a"/>
<rect x="952.70" y="3631.31" width="36.00" height="56.79" fill="#f6b21c"/>
<rect x="995.70" y="3665.72" width="36.00" height="22.38" fill="#f5965a"/>
<rect x="1038.70" y="3664.45" width="36.00" height="23.65" fill="#c5defa"/>
<rect x="1081.70" y="3685.57" width="36.00" height="2.53" fill="#8c8cfa"/>
<rect x="1124.70" y="3501.89" width="36.00" height="186.21" fill="#0000fa"/>
<text class="fs" transform="translate(970.70,3632.98) scale(1.2200,1.0000)" font-size="32" text-anchor="middle" style="fill:#222;">*</text>
<text class="fs" transform="translate(1099.70,3689.13) scale(1.2200,1.0000)" font-size="32" text-anchor="middle" style="fill:#222;">**</text>
<text class="fs" transform="translate(1142.70,3498.07) scale(1.2200,1.0000)" font-size="32" text-anchor="middle" style="fill:#222;">*</text>
<path d="M927.70 3657.28V3653.05M918.70 3653.05H936.70M970.70 3631.31V3628.78M961.70 3628.78H979.70M1013.70 3665.72V3661.50M1004.70 3661.50H1022.70M1056.70 3664.45V3662.77M1047.70 3662.77H1065.70M1099.70 3685.57V3684.93M1090.70 3684.93H1108.70M1142.70 3501.89V3493.87M1133.70 3493.87H1151.70" stroke="#2a2a2a" stroke-width="2.2" fill="none"/>
<text class="fr" transform="translate(1012.20,3751.00) scale(1.1600,1.0000)" font-size="42.3" text-anchor="middle" style="font-style:italic;">SrbZIP21</text>
<rect x="1205.80" y="3666.99" width="36.00" height="21.11" fill="#d3d3d3"/>
<rect x="1248.80" y="3649.68" width="36.00" height="38.42" fill="#dcdc3a"/>
<rect x="1291.80" y="3642.71" width="36.00" height="45.39" fill="#f6b21c"/>
<rect x="1334.80" y="3627.51" width="36.00" height="60.59" fill="#f5965a"/>
<rect x="1377.80" y="3669.73" width="36.00" height="18.37" fill="#c5defa"/>
<rect x="1420.80" y="3684.51" width="36.00" height="3.59" fill="#8c8cfa"/>
<rect x="1463.80" y="3561.85" width="36.00" height="126.25" fill="#0000fa"/>
<text class="fs" transform="translate(1352.80,3629.60) scale(1.2200,1.0000)" font-size="32" text-anchor="middle" style="fill:#222;">*</text>
<text class="fs" transform="translate(1438.80,3688.08) scale(1.2200,1.0000)" font-size="32" text-anchor="middle" style="fill:#222;">**</text>
<text class="fs" transform="translate(1481.80,3560.77) scale(1.2200,1.0000)" font-size="32" text-anchor="middle" style="fill:#222;">*</text>
<path d="M1266.80 3649.68V3648.62M1257.80 3648.62H1275.80M1309.80 3642.71V3641.65M1300.80 3641.65H1318.80M1352.80 3627.51V3625.40M1343.80 3625.40H1361.80M1395.80 3669.73V3668.68M1386.80 3668.68H1404.80M1438.80 3684.51V3683.88M1429.80 3683.88H1447.80M1481.80 3561.85V3556.57M1472.80 3556.57H1490.80" stroke="#2a2a2a" stroke-width="2.2" fill="none"/>
<text class="fr" transform="translate(1351.30,3751.00) scale(1.1600,1.0000)" font-size="42.3" text-anchor="middle" style="font-style:italic;">SrbZIP104</text>
<rect x="1544.90" y="3666.99" width="36.00" height="21.11" fill="#d3d3d3"/>
<rect x="1587.90" y="3567.34" width="36.00" height="120.76" fill="#dcdc3a"/>
<rect x="1630.90" y="3664.45" width="36.00" height="23.65" fill="#f6b21c"/>
<rect x="1673.90" y="3657.28" width="36.00" height="30.82" fill="#f5965a"/>
<rect x="1716.90" y="3674.59" width="36.00" height="13.51" fill="#c5defa"/>
<rect x="1759.90" y="3682.61" width="36.00" height="5.49" fill="#8c8cfa"/>
<rect x="1802.90" y="3433.91" width="36.00" height="254.19" fill="#0000fa"/>
<text class="fs" transform="translate(1605.90,3567.32) scale(1.2200,1.0000)" font-size="32" text-anchor="middle" style="fill:#222;">*</text>
<text class="fs" transform="translate(1777.90,3686.18) scale(1.2200,1.0000)" font-size="32" text-anchor="middle" style="fill:#222;">**</text>
<text class="fs" transform="translate(1820.90,3421.22) scale(1.2200,1.0000)" font-size="32" text-anchor="middle" style="fill:#222;">*</text>
<path d="M1605.90 3567.34V3563.12M1596.90 3563.12H1614.90M1648.90 3664.45V3660.23M1639.90 3660.23H1657.90M1691.90 3657.28V3656.22M1682.90 3656.22H1700.90M1734.90 3674.59V3669.31M1725.90 3669.31H1743.90M1777.90 3682.61V3681.98M1768.90 3681.98H1786.90M1820.90 3433.91V3417.02M1811.90 3417.02H1829.90" stroke="#2a2a2a" stroke-width="2.2" fill="none"/>
<text class="fr" transform="translate(1690.40,3751.00) scale(1.1600,1.0000)" font-size="42.3" text-anchor="middle" style="font-style:italic;">SrbZIP60</text>
<rect x="1884.00" y="3666.99" width="36.00" height="21.11" fill="#d3d3d3"/>
<rect x="1927.00" y="3625.82" width="36.00" height="62.28" fill="#dcdc3a"/>
<rect x="1970.00" y="3635.74" width="36.00" height="52.36" fill="#f6b21c"/>
<rect x="2013.00" y="3663.61" width="36.00" height="24.49" fill="#f5965a"/>
<rect x="2056.00" y="3630.89" width="36.00" height="57.21" fill="#c5defa"/>
<rect x="2099.00" y="3684.93" width="36.00" height="3.17" fill="#8c8cfa"/>
<rect x="2142.00" y="3665.93" width="36.00" height="22.17" fill="#0000fa"/>
<text class="fs" transform="translate(1988.00,3636.78) scale(1.2200,1.0000)" font-size="32" text-anchor="middle" style="fill:#222;">*</text>
<text class="fs" transform="translate(2117.00,3688.50) scale(1.2200,1.0000)" font-size="32" text-anchor="middle" style="fill:#222;">**</text>
<path d="M1945.00 3625.82V3619.49M1936.00 3619.49H1954.00M1988.00 3635.74V3632.58M1979.00 3632.58H1997.00M2031.00 3663.61V3657.28M2022.00 3657.28H2040.00M2074.00 3630.89V3627.72M2065.00 3627.72H2083.00M2117.00 3684.93V3684.30M2108.00 3684.30H2126.00M2160.00 3665.93V3663.82M2151.00 3663.82H2169.00" stroke="#2a2a2a" stroke-width="2.2" fill="none"/>
<text class="fr" transform="translate(2029.50,3751.00) scale(1.1600,1.0000)" font-size="42.3" text-anchor="middle" style="font-style:italic;">SrbZIP93</text>
<text class="fs" transform="translate(467.00,3700.40) scale(1.1900,1.0000)" font-size="33.5" text-anchor="end">0</text>
<text class="fs" transform="translate(467.00,3594.84) scale(1.1900,1.0000)" font-size="33.5" text-anchor="end">5</text>
<text class="fs" transform="translate(467.00,3489.28) scale(1.1900,1.0000)" font-size="33.5" text-anchor="end">10</text>
<text class="fs" transform="translate(467.00,3383.72) scale(1.1900,1.0000)" font-size="33.5" text-anchor="end">15</text>
<text class="fs" transform="translate(467.00,3278.16) scale(1.1900,1.0000)" font-size="33.5" text-anchor="end">20</text>
<text class="fs" transform="translate(467.00,3172.60) scale(1.1900,1.0000)" font-size="33.5" text-anchor="end">25</text>
<path d="M492.20 3158.20V3690.20" stroke="#111" stroke-width="5.4" fill="none"/>
<path d="M492.20 3688.10H2216.00" stroke="#111" stroke-width="4.2" fill="none"/>
<path d="M492.20 3688.10H470.70M492.20 3582.54H470.70M492.20 3476.98H470.70M492.20 3371.42H470.70M492.20 3265.86H470.70M492.20 3160.30H470.70M674.60 3688.10V3700.60M1013.70 3688.10V3700.60M1352.80 3688.10V3700.60M1691.90 3688.10V3700.60M2031.00 3688.10V3700.60" stroke="#111" stroke-width="4.2" fill="none"/>
<text class="fs" transform="translate(393.40,3423.00) rotate(-90) scale(1.0000,1.1380)" font-size="49" text-anchor="middle">Relative expression</text>
</g>
<g>
<rect x="536.30" y="4329.42" width="44.00" height="52.38" fill="#d3d3d3"/>
<rect x="589.80" y="4002.57" width="44.00" height="379.23" fill="#dcdc3a"/>
<rect x="643.30" y="4325.23" width="44.00" height="56.57" fill="#f6b21c"/>
<rect x="696.80" y="4258.71" width="44.00" height="123.09" fill="#f5965a"/>
<rect x="750.30" y="4322.61" width="44.00" height="59.19" fill="#c5defa"/>
<rect x="803.80" y="4314.75" width="44.00" height="67.05" fill="#8c8cfa"/>
<rect x="857.30" y="4191.14" width="44.00" height="190.66" fill="#0000fa"/>
<text class="fs" transform="translate(611.80,3991.05) scale(1.2200,1.0000)" font-size="32" text-anchor="middle" style="fill:#222;">*</text>
<text class="fs" transform="translate(718.80,4257.67) scale(1.2200,1.0000)" font-size="32" text-anchor="middle" style="fill:#222;">*</text>
<text class="fs" transform="translate(879.30,4184.86) scale(1.2200,1.0000)" font-size="32" text-anchor="middle" style="fill:#222;">*</text>
<path d="M611.80 4002.57V3986.85M600.80 3986.85H622.80M665.30 4325.23V4309.52M654.30 4309.52H676.30M718.80 4258.71V4253.47M707.80 4253.47H729.80M772.30 4322.61V4317.37M761.30 4317.37H783.30M825.80 4314.75V4303.23M814.80 4303.23H836.80M879.30 4191.14V4180.66M868.30 4180.66H890.30" stroke="#2a2a2a" stroke-width="2.2" fill="none"/>
<text class="fr" transform="translate(717.30,4443.50) scale(1.1600,1.0000)" font-size="42.3" text-anchor="middle" style="font-style:italic;">SrbZIP63</text>
<rect x="959.30" y="4329.42" width="44.00" height="52.38" fill="#d3d3d3"/>
<rect x="1012.80" y="4367.66" width="44.00" height="14.14" fill="#dcdc3a"/>
<rect x="1066.30" y="4367.66" width="44.00" height="14.14" fill="#f6b21c"/>
<rect x="1119.80" y="4355.61" width="44.00" height="26.19" fill="#f5965a"/>
<rect x="1173.30" y="4346.71" width="44.00" height="35.09" fill="#c5defa"/>
<rect x="1226.80" y="4373.94" width="44.00" height="7.86" fill="#8c8cfa"/>
<rect x="1280.30" y="4329.94" width="44.00" height="51.86" fill="#0000fa"/>
<text class="fs" transform="translate(1141.80,4357.19) scale(1.2200,1.0000)" font-size="32" text-anchor="middle" style="fill:#222;">*</text>
<text class="fs" transform="translate(1248.80,4375.52) scale(1.2200,1.0000)" font-size="32" text-anchor="middle" style="fill:#222;">*</text>
<path d="M1034.80 4367.66V4363.99M1023.80 4363.99H1045.80M1088.30 4367.66V4362.42M1077.30 4362.42H1099.30M1141.80 4355.61V4352.99M1130.80 4352.99H1152.80M1195.30 4346.71V4342.52M1184.30 4342.52H1206.30M1248.80 4373.94V4371.32M1237.80 4371.32H1259.80M1302.30 4329.94V4325.23M1291.30 4325.23H1313.30" stroke="#2a2a2a" stroke-width="2.2" fill="none"/>
<text class="fr" transform="translate(1140.30,4443.50) scale(1.1600,1.0000)" font-size="42.3" text-anchor="middle" style="font-style:italic;">SrbZIP70</text>
<rect x="1382.30" y="4329.42" width="44.00" height="52.38" fill="#d3d3d3"/>
<rect x="1435.80" y="4036.62" width="44.00" height="345.18" fill="#dcdc3a"/>
<rect x="1489.30" y="4323.13" width="44.00" height="58.67" fill="#f6b21c"/>
<rect x="1542.80" y="4302.18" width="44.00" height="79.62" fill="#f5965a"/>
<rect x="1596.30" y="4330.47" width="44.00" height="51.33" fill="#c5defa"/>
<rect x="1649.80" y="4372.90" width="44.00" height="8.90" fill="#8c8cfa"/>
<rect x="1703.30" y="4307.42" width="44.00" height="74.38" fill="#0000fa"/>
<text class="fs" transform="translate(1457.80,4028.24) scale(1.2200,1.0000)" font-size="32" text-anchor="middle" style="fill:#222;">*</text>
<text class="fs" transform="translate(1671.80,4375.52) scale(1.2200,1.0000)" font-size="32" text-anchor="middle" style="fill:#222;">*</text>
<path d="M1457.80 4036.62V4024.04M1446.80 4024.04H1468.80M1511.30 4323.13V4300.61M1500.30 4300.61H1522.30M1564.80 4302.18V4259.75M1553.80 4259.75H1575.80M1618.30 4330.47V4319.47M1607.30 4319.47H1629.30M1671.80 4372.90V4371.32M1660.80 4371.32H1682.80M1725.30 4307.42V4295.90M1714.30 4295.90H1736.30" stroke="#2a2a2a" stroke-width="2.2" fill="none"/>
<text class="fr" transform="translate(1563.30,4443.50) scale(1.1600,1.0000)" font-size="42.3" text-anchor="middle" style="font-style:italic;">SrbZIP9</text>
<rect x="1805.30" y="4329.42" width="44.00" height="52.38" fill="#d3d3d3"/>
<rect x="1858.80" y="4129.33" width="44.00" height="252.47" fill="#dcdc3a"/>
<rect x="1912.30" y="4288.56" width="44.00" height="93.24" fill="#f6b21c"/>
<rect x="1965.80" y="4306.90" width="44.00" height="74.90" fill="#f5965a"/>
<rect x="2019.30" y="4276.52" width="44.00" height="105.28" fill="#c5defa"/>
<rect x="2072.80" y="4333.61" width="44.00" height="48.19" fill="#8c8cfa"/>
<rect x="2126.30" y="4294.85" width="44.00" height="86.95" fill="#0000fa"/>
<text class="fs" transform="translate(1880.80,4124.10) scale(1.2200,1.0000)" font-size="32" text-anchor="middle" style="fill:#222;">*</text>
<path d="M1880.80 4129.33V4119.90M1869.80 4119.90H1891.80M1934.30 4288.56V4283.33M1923.30 4283.33H1945.30M1987.80 4306.90V4296.42M1976.80 4296.42H1998.80M2041.30 4276.52V4265.52M2030.30 4265.52H2052.30M2094.80 4333.61V4330.99M2083.80 4330.99H2105.80M2148.30 4294.85V4290.14M2137.30 4290.14H2159.30" stroke="#2a2a2a" stroke-width="2.2" fill="none"/>
<text class="fr" transform="translate(1986.30,4443.50) scale(1.1600,1.0000)" font-size="42.3" text-anchor="middle" style="font-style:italic;">SrbZIP102</text>
<text class="fs" transform="translate(467.00,4394.10) scale(1.1900,1.0000)" font-size="33.5" text-anchor="end">0</text>
<text class="fs" transform="translate(467.00,4289.34) scale(1.1900,1.0000)" font-size="33.5" text-anchor="end">2</text>
<text class="fs" transform="translate(467.00,4184.58) scale(1.1900,1.0000)" font-size="33.5" text-anchor="end">4</text>
<text class="fs" transform="translate(467.00,4079.82) scale(1.1900,1.0000)" font-size="33.5" text-anchor="end">6</text>
<text class="fs" transform="translate(467.00,3975.06) scale(1.1900,1.0000)" font-size="33.5" text-anchor="end">8</text>
<text class="fs" transform="translate(467.00,3870.30) scale(1.1900,1.0000)" font-size="33.5" text-anchor="end">10</text>
<path d="M492.20 3855.90V4383.90" stroke="#111" stroke-width="5.4" fill="none"/>
<path d="M492.20 4381.80H2217.00" stroke="#111" stroke-width="4.2" fill="none"/>
<path d="M492.20 4381.80H470.70M492.20 4277.04H470.70M492.20 4172.28H470.70M492.20 4067.52H470.70M492.20 3962.76H470.70M492.20 3858.00H470.70M718.80 4381.80V4394.30M1141.80 4381.80V4394.30M1564.80 4381.80V4394.30M1987.80 4381.80V4394.30" stroke="#111" stroke-width="4.2" fill="none"/>
<text class="fs" transform="translate(393.40,4118.00) rotate(-90) scale(1.0000,1.1380)" font-size="49" text-anchor="middle">Relative expression</text>
</g>
</svg>
</body></html>
